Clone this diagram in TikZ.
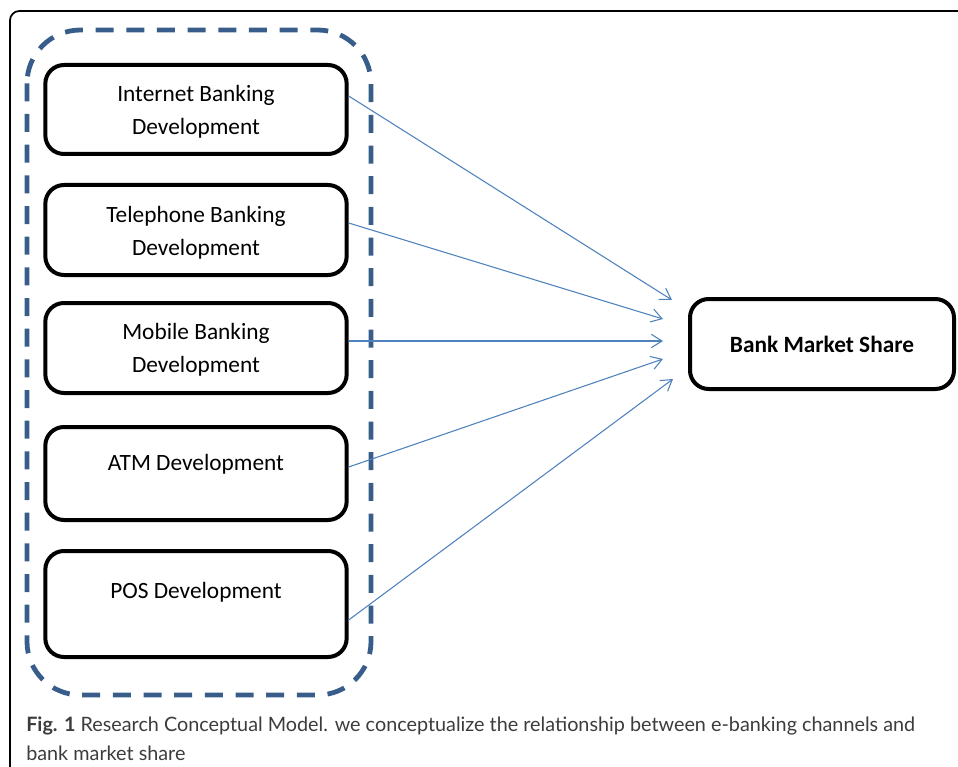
\documentclass[tikz,border=0pt]{standalone}
\usepackage{fontspec}
\setmainfont{Carlito}
\newfontfamily\capfont{Lato}
\usetikzlibrary{arrows.meta,calc,positioning}
\definecolor{dashblue}{RGB}{56,93,138}
\definecolor{arrowblue}{RGB}{79,129,189}
\definecolor{capgray}{RGB}{60,60,60}

\tikzset{
  chan/.style={draw,line width=3pt,rounded corners=14pt,minimum width=226pt,inner sep=0pt},
  txt/.style={align=center,inner sep=0pt,font=\fontsize{17.5}{25}\selectfont},
  link/.style={arrowblue,line width=0.8pt,-{Straight Barb[length=8pt,width=10pt,line width=0.8pt]}},
}

\begin{document}
\begin{tikzpicture}[x=0.75pt,y=0.75pt,yscale=-1,xscale=1]
  \useasboundingbox (0,0) rectangle (958,767);

  %Frame round the figure
  \begin{scope}
    \clip (0,0) rectangle (958,767);
    \draw [line width=1.3pt,rounded corners=7pt] (10,11) rectangle (990,800);
  \end{scope}

  %Dashed group of channels
  \draw [dashblue,line width=3.6pt,dash pattern=on 13.5pt off 9.5pt,rounded corners=40pt] (27,30) rectangle (371,695);

  %Channel boxes
  \node [chan,minimum height=66.75pt] (ib) at (196,109.5) {};
  \node [chan,minimum height=67.5pt] (tb) at (196,230) {};
  \node [chan,minimum height=67.5pt] (mb) at (196,348) {};
  \node [chan,minimum height=69.75pt] (atm) at (196,473.5) {};
  \node [chan,minimum height=79.5pt] (pos) at (196,604) {};

  % Text Node
  \node [txt] (ibt) at (196,111.5) {Internet Banking\\Development};
  % Text Node
  \node [txt] (tbt) at (196,232.5) {Telephone Banking\\Development};
  % Text Node
  \node [txt] (mbt) at (196,349.5) {Mobile Banking\\Development};
  % Text Node
  \node [txt] (atmt) at (196,464) {ATM Development};
  % Text Node
  \node [txt] (post) at (196,592) {POS Development};

  %Target box
  \node [chan,minimum width=198pt,minimum height=67.5pt,font=\fontsize{17.5}{25}\selectfont\bfseries] (bms) at (822,344) {Bank Market Share};

  %Arrow ends
  \coordinate (e1) at (672,300);
  \coordinate (e2) at (663,319);
  \coordinate (e3) at (663,341);
  \coordinate (e4) at (663,359);
  \coordinate (e5) at (673,379);

  %Arrows
  \draw [link] ($(ib.east)+(0,-13.5)$) -- (e1);
  \draw [link] ($(tb.east)+(0,-7)$) -- (e2);
  \draw [link] ($(mb.east)+(0,-7)$) -- (e3);
  \draw [link] ($(atm.east)+(0,-6.5)$) -- (e4);
  \draw [link] ($(pos.east)+(0,16)$) -- (e5);

  % Caption
  \node [anchor=west,align=left,inner sep=0pt,text=capgray,font=\capfont\fontsize{14.85}{21.5}\selectfont] (cap) at (26,738.5)
    {\textbf{Fig. 1} Research Conceptual Model. we conceptualize the relationship between e-banking channels and\\bank market share};
\end{tikzpicture}
\end{document}
